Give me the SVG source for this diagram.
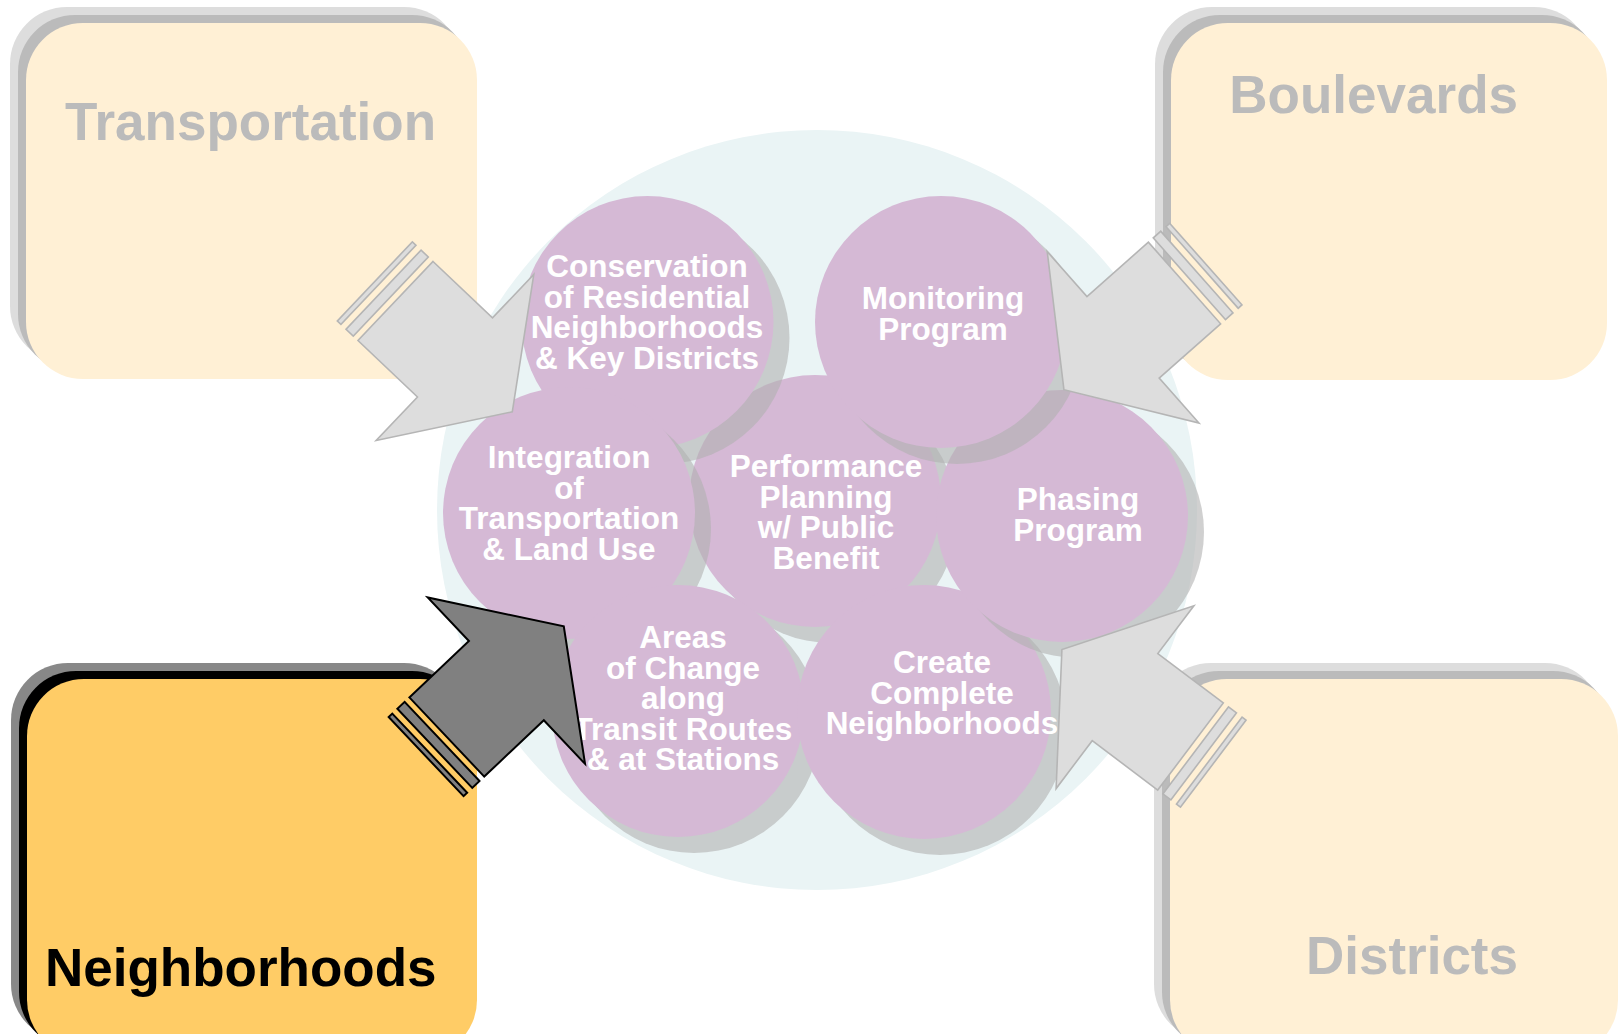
<svg xmlns="http://www.w3.org/2000/svg" width="1621" height="1034" viewBox="0 0 1621 1034">
  <defs>
    <style>
      .bx-l1 { fill: #DDDDDD; }
      .bx-l2 { fill: #BBBBBB; }
      .bx { fill: #FFF0D5; }
      .bx-sel-l1 { fill: #888888; }
      .bx-sel-l2 { fill: #000000; }
      .bx-sel { fill: #FFCC66; }
      .ttl { font-family: "Liberation Sans", Arial, sans-serif; font-weight: bold; font-size: 53px; fill: #BBBBBB; }
      .ttl-sel { fill: #000000; }
      .sh { fill: #B0B0B0; fill-opacity: 0.6; }
      .pc { fill: #D5B9D5; }
      .lbl { font-family: "Liberation Sans", Arial, sans-serif; font-weight: bold; font-size: 31.5px; fill: #FFFFFF; text-anchor: middle; }
      .arr { fill: #DDDDDD; stroke: #B5B5B5; stroke-width: 1.6; stroke-linejoin: miter; }
      .arr-sel { fill: #808080; stroke: #000000; stroke-width: 2; stroke-linejoin: miter; }
    </style>
    <!-- block arrow pointing along +x, origin at the middle of the tail edge -->
    <path id="arrowBody" d="M0,-54.5 H82 V-114.5 L161,0 L82,114.5 V54.5 H0 Z"/>
    <g id="arrowStripes">
      <rect x="-16.5" y="-54.5" width="10" height="109"/>
      <rect x="-28.5" y="-54.5" width="5" height="109"/>
    </g>
    <clipPath id="hubClip">
      <circle cx="817" cy="510" r="380"/>
    </clipPath>
  </defs>

  <rect width="1621" height="1034" fill="#FFFFFF"/>

  <!-- pale hub disc behind the topic circles -->
  <circle cx="817" cy="510" r="380" fill="#EAF4F5"/>
  <!-- cast shadow of the highlighted arrow on the hub -->
  <use href="#arrowBody" transform="translate(452.8,745) rotate(-43.4)" fill="#B2DBE0" clip-path="url(#hubClip)"/>

  <!-- corner boxes -->
  <g id="box-transportation">
    <rect class="bx-l1" x="10" y="7" width="451" height="356" rx="57"/>
    <rect class="bx-l2" x="18" y="15" width="451" height="356" rx="57"/>
    <rect class="bx" x="26" y="23" width="451" height="356" rx="57"/>
    <text class="ttl" x="65" y="140">Transportation</text>
  </g>
  <g id="box-boulevards">
    <rect class="bx-l1" x="1155" y="7" width="436" height="357" rx="57"/>
    <rect class="bx-l2" x="1163" y="15" width="436" height="357" rx="57"/>
    <rect class="bx" x="1171" y="23" width="436" height="357" rx="57"/>
    <text class="ttl" x="1518" y="113" text-anchor="end">Boulevards</text>
  </g>
  <g id="box-neighborhoods">
    <rect class="bx-sel-l1" x="11" y="663" width="450" height="378" rx="57"/>
    <rect class="bx-sel-l2" x="19" y="671" width="450" height="378" rx="57"/>
    <rect class="bx-sel" x="27" y="679" width="450" height="378" rx="57"/>
    <text class="ttl ttl-sel" x="45" y="986">Neighborhoods</text>
  </g>
  <g id="box-districts">
    <rect class="bx-l1" x="1154" y="663" width="448" height="378" rx="57"/>
    <rect class="bx-l2" x="1162" y="671" width="448" height="378" rx="57"/>
    <rect class="bx" x="1170" y="679" width="448" height="378" rx="57"/>
    <text class="ttl" x="1518" y="974" text-anchor="end">Districts</text>
  </g>

  <!-- topic circles, each with its drop shadow -->
  <g id="c-performance">
    <circle class="sh" cx="831" cy="517" r="126"/>
    <circle class="pc" cx="815" cy="501" r="126"/>
    <text class="lbl"><tspan x="826" y="477">Performance</tspan><tspan x="826" y="507.5">Planning</tspan><tspan x="826" y="538">w/ Public</tspan><tspan x="826" y="568.5">Benefit</tspan></text>
  </g>
  <g id="c-conservation">
    <circle class="sh" cx="663.5" cy="338" r="126"/>
    <circle class="pc" cx="647.5" cy="322" r="126"/>
    <text class="lbl"><tspan x="647" y="277">Conservation</tspan><tspan x="647" y="307.5">of Residential</tspan><tspan x="647" y="338">Neighborhoods</tspan><tspan x="647" y="368.5">&amp; Key Districts</tspan></text>
  </g>
  <g id="c-integration">
    <circle class="sh" cx="585" cy="529" r="126"/>
    <circle class="pc" cx="569" cy="513" r="126"/>
    <text class="lbl"><tspan x="569" y="468">Integration</tspan><tspan x="569" y="498.5">of</tspan><tspan x="569" y="529">Transportation</tspan><tspan x="569" y="559.5">&amp; Land Use</tspan></text>
  </g>
  <g id="c-areas">
    <circle class="sh" cx="694" cy="727" r="126"/>
    <circle class="pc" cx="678" cy="711" r="126"/>
    <text class="lbl"><tspan x="683" y="648">Areas</tspan><tspan x="683" y="678.5">of Change</tspan><tspan x="683" y="709">along</tspan><tspan x="683" y="739.5">Transit Routes</tspan><tspan x="683" y="770">&amp; at Stations</tspan></text>
  </g>
  <g id="c-create">
    <circle class="sh" cx="940" cy="728" r="127"/>
    <circle class="pc" cx="924" cy="712" r="127"/>
    <text class="lbl"><tspan x="942" y="673">Create</tspan><tspan x="942" y="703.5">Complete</tspan><tspan x="942" y="734">Neighborhoods</tspan></text>
  </g>
  <g id="c-phasing">
    <circle class="sh" cx="1078" cy="532" r="126"/>
    <circle class="pc" cx="1062" cy="516" r="126"/>
    <text class="lbl"><tspan x="1078" y="510">Phasing</tspan><tspan x="1078" y="541">Program</tspan></text>
  </g>
  <g id="c-monitoring">
    <circle class="sh" cx="957" cy="338" r="126"/>
    <circle class="pc" cx="941" cy="322" r="126"/>
    <text class="lbl"><tspan x="943" y="309">Monitoring</tspan><tspan x="943" y="339.5">Program</tspan></text>
  </g>

  <!-- striped arrows from each box toward the hub -->
  <g id="connectors">
    <g id="a-transportation" class="arr" transform="translate(395.5,301) rotate(43.5)">
      <use href="#arrowStripes"/>
      <use href="#arrowBody"/>
    </g>
    <g id="a-boulevards" class="arr" transform="translate(1184.5,283) rotate(138.5)">
      <use href="#arrowStripes"/>
      <use href="#arrowBody"/>
    </g>
    <g id="a-districts" class="arr" transform="translate(1190.5,746.5) rotate(217)">
      <use href="#arrowStripes"/>
      <use href="#arrowBody"/>
    </g>
    <g id="a-neighborhoods" class="arr-sel" transform="translate(446.8,737) rotate(-43.4)">
      <use href="#arrowStripes"/>
      <use href="#arrowBody"/>
    </g>
  </g>
</svg>
